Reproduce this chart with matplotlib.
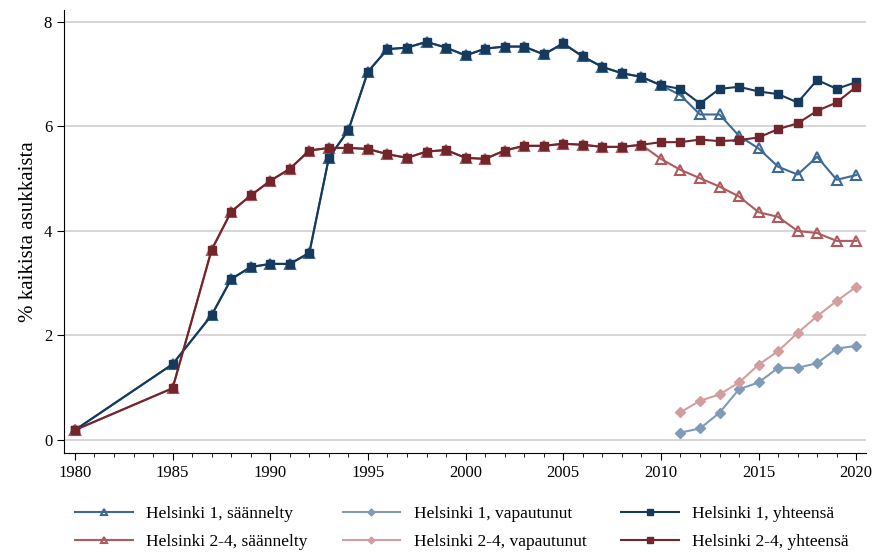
import numpy as np
import matplotlib
matplotlib.use("Agg")
import matplotlib.pyplot as plt
from matplotlib.ticker import MultipleLocator

plt.rcParams['font.family'] = ['Liberation Serif', 'DejaVu Serif']

years = [1980, 1985] + list(range(1987, 2021))
years_vap = list(range(2011, 2021))

h1_total = [0.19, 1.45, 2.39, 3.08, 3.31, 3.37, 3.37, 3.58, 5.40, 5.93,
            7.05, 7.48, 7.51, 7.62, 7.51, 7.36, 7.49, 7.53, 7.53, 7.38,
            7.59, 7.34, 7.14, 7.02, 6.95, 6.79, 6.72, 6.44, 6.72, 6.76,
            6.67, 6.62, 6.46, 6.89, 6.72, 6.85]
h24_total = [0.19, 0.99, 3.64, 4.37, 4.68, 4.96, 5.19, 5.54, 5.59, 5.59,
             5.57, 5.47, 5.40, 5.52, 5.55, 5.40, 5.38, 5.54, 5.63, 5.63,
             5.67, 5.65, 5.61, 5.61, 5.65, 5.70, 5.70, 5.75, 5.72, 5.74,
             5.79, 5.95, 6.06, 6.30, 6.46, 6.76]
# säännelty equals the total until the first releases
h1_reg = h1_total[:25] + [6.79, 6.60, 6.23, 6.23, 5.82, 5.58, 5.23, 5.08, 5.42, 4.98, 5.07]
h24_reg = h24_total[:25] + [5.38, 5.17, 5.01, 4.85, 4.66, 4.36, 4.27, 4.00, 3.96, 3.81, 3.81]
h1_vap = [0.14, 0.22, 0.52, 0.97, 1.10, 1.38, 1.38, 1.47, 1.75, 1.80]
h24_vap = [0.53, 0.75, 0.87, 1.10, 1.44, 1.70, 2.05, 2.37, 2.66, 2.93]

labels = ["Helsinki 1, säännelty", "Helsinki 2-4, säännelty",
          "Helsinki 1, vapautunut", "Helsinki 2-4, vapautunut",
          "Helsinki 1, yhteensä", "Helsinki 2-4, yhteensä"]

c_h1_reg, c_h24_reg = "#3d6b96", "#b05a60"
c_h1_vap, c_h24_vap = "#7f9bb8", "#d49ea0"
c_h1_tot, c_h24_tot = "#163a5e", "#72262c"

fig = plt.figure(figsize=(8.72, 5.55), dpi=100)
ax = fig.add_axes([64/872, 102/555, 802/872, 443/555])

ax.plot(years, h1_reg, color=c_h1_reg, lw=1.5, marker="^", ms=6.5,
        mfc="none", mew=1.5, label=labels[0], zorder=3)
ax.plot(years, h24_reg, color=c_h24_reg, lw=1.5, marker="^", ms=6.5,
        mfc="none", mew=1.5, label=labels[1], zorder=3)
ax.plot(years_vap, h1_vap, color=c_h1_vap, lw=1.5, marker="D", ms=5,
        label=labels[2], zorder=3)
ax.plot(years_vap, h24_vap, color=c_h24_vap, lw=1.5, marker="D", ms=5,
        label=labels[3], zorder=3)
ax.plot(years, h1_total, color=c_h1_tot, lw=1.5, marker="s", ms=6,
        label=labels[4], zorder=4)
ax.plot(years, h24_total, color=c_h24_tot, lw=1.5, marker="s", ms=6,
        label=labels[5], zorder=4)

ax.set_xlim(1979.44, 2020.5)
ax.set_ylim(-0.25, 8.23)
ax.set_xticks(range(1980, 2021, 5))
ax.xaxis.set_minor_locator(MultipleLocator(1))
ax.set_yticks([0, 2, 4, 6, 8])
ax.yaxis.grid(True, color="#d0d0d0", lw=1.2)
ax.set_axisbelow(True)
for s in ["top", "right"]:
    ax.spines[s].set_visible(False)
ax.tick_params(axis="both", labelsize=12, length=5, direction="out")
ax.tick_params(axis="x", which="minor", length=3)
ax.set_ylabel("% kaikista asukkaista", fontsize=15)

fig.legend(loc="lower center", bbox_to_anchor=(0.53, -0.01), ncol=3, frameon=False,
           fontsize=12.5, handlelength=3.3, columnspacing=2.0, handletextpad=0.8,
           labelspacing=0.7, markerscale=0.7, borderpad=0.1)

fig.savefig("out.png", dpi=100)
